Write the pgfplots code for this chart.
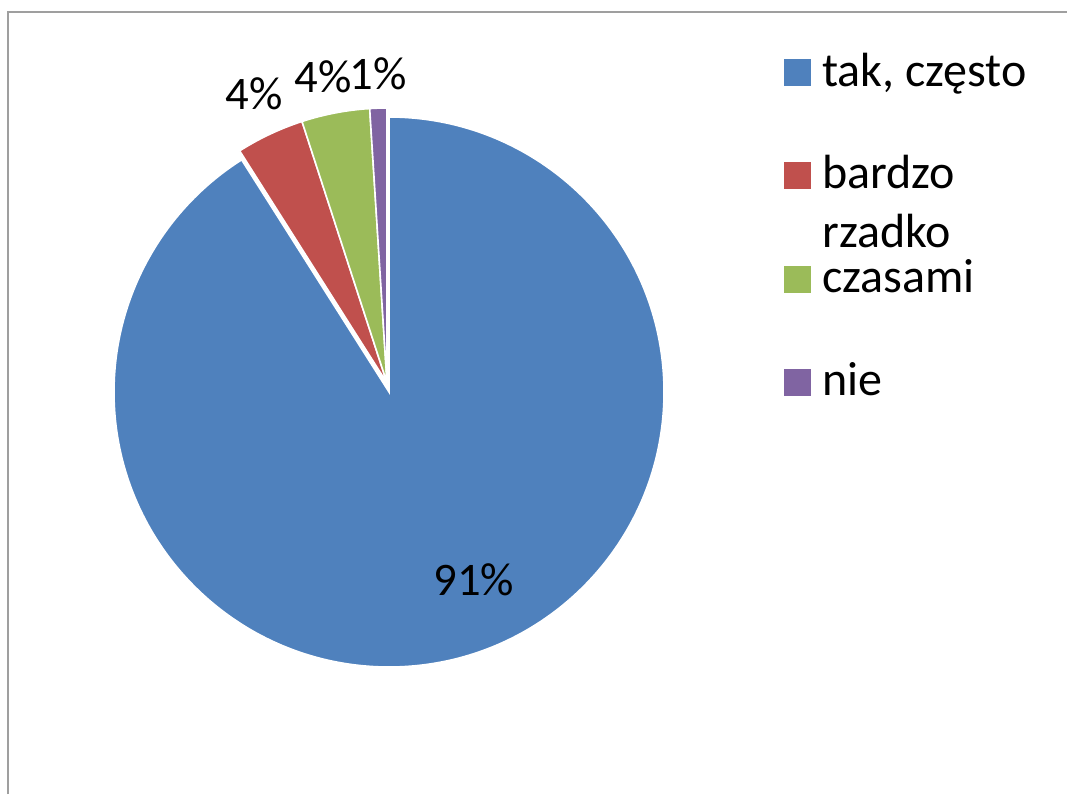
\documentclass[border=0pt]{standalone}
\usepackage{fontspec}
\setmainfont{Carlito}
\usepackage{pgfplots}
\pgfplotsset{compat=1.18}
\usepackage{pgfplotstable}
\definecolor{cA}{HTML}{4F81BD}
\definecolor{cB}{HTML}{C0504D}
\definecolor{cC}{HTML}{9BBB59}
\definecolor{cD}{HTML}{8064A2}
\pgfplotstableread{
idx value
0 91
1 4
2 4
3 1
}\piedata
\begin{document}
\begin{tikzpicture}
\pgfplotstablegetelem{0}{value}\of\piedata \pgfmathsetmacro\vA{\pgfplotsretval}
\pgfplotstablegetelem{1}{value}\of\piedata \pgfmathsetmacro\vB{\pgfplotsretval}
\pgfplotstablegetelem{2}{value}\of\piedata \pgfmathsetmacro\vC{\pgfplotsretval}
\pgfplotstablegetelem{3}{value}\of\piedata \pgfmathsetmacro\vD{\pgfplotsretval}
\pgfmathsetmacro\tot{\vA+\vB+\vC+\vD}
\pgfmathsetmacro\aA{90-360*(\vA/\tot)}
\pgfmathsetmacro\aB{\aA-360*(\vB/\tot)}
\pgfmathsetmacro\aC{\aB-360*(\vC/\tot)}
\pgfmathsetmacro\aD{\aC-360*(\vD/\tot)}
\def\R{206.25pt}
\begin{axis}[width=800.25pt,height=595.5pt,scale only axis,
  xmin=0,xmax=1067,ymin=0,ymax=794,hide axis,clip=false]
% frame
\draw[gray!75,line width=1pt] (axis cs:8,0) -- (axis cs:8,782) -- (axis cs:1067,782);
% slices
\fill[cA,draw=white,line width=1.2pt] (axis cs:389,402) -- ++(90:\R) arc[start angle=90,end angle=\aA,radius=\R] -- cycle;
\fill[cB,draw=white,line width=1.2pt] (axis cs:387,411) -- ++(\aA:\R) arc[start angle=\aA,end angle=\aB,radius=\R] -- cycle;
\fill[cC,draw=white,line width=1.2pt] (axis cs:387,411) -- ++(\aB:\R) arc[start angle=\aB,end angle=\aC,radius=\R] -- cycle;
\fill[cD,draw=white,line width=1.2pt] (axis cs:387,411) -- ++(\aC:\R) arc[start angle=\aC,end angle=\aD,radius=\R] -- cycle;
% data labels
\node[anchor=base,inner sep=0pt,font=\fontsize{35}{42}\selectfont] at (axis cs:254,684) {4\%};
\node[anchor=base,inner sep=0pt,font=\fontsize{35}{42}\selectfont] at (axis cs:323,701) {4\%};
\node[anchor=base,inner sep=0pt,font=\fontsize{35}{42}\selectfont] at (axis cs:378,704) {1\%};
\node[anchor=base,inner sep=0pt,font=\fontsize{35}{42}\selectfont] at (axis cs:474,199) {91\%};
% legend
\fill[cA] (axis cs:784,708) rectangle (axis cs:811,735);
\fill[cB] (axis cs:784,605) rectangle (axis cs:811,632);
\fill[cC] (axis cs:784,501) rectangle (axis cs:811,528);
\fill[cD] (axis cs:784,398) rectangle (axis cs:811,425);
\node[anchor=base west,inner sep=0pt,font=\fontsize{36}{43}\selectfont] at (axis cs:822,707) {tak, często};
\node[anchor=base west,inner sep=0pt,font=\fontsize{36}{43}\selectfont] at (axis cs:822,605) {bardzo};
\node[anchor=base west,inner sep=0pt,font=\fontsize{36}{43}\selectfont] at (axis cs:822,546) {rzadko};
\node[anchor=base west,inner sep=0pt,font=\fontsize{36}{43}\selectfont] at (axis cs:822,502) {czasami};
\node[anchor=base west,inner sep=0pt,font=\fontsize{36}{43}\selectfont] at (axis cs:822,399) {nie};
\end{axis}
\pgfresetboundingbox
\path[use as bounding box] (0,0) rectangle (800.25pt,595.5pt);
\end{tikzpicture}
\end{document}
